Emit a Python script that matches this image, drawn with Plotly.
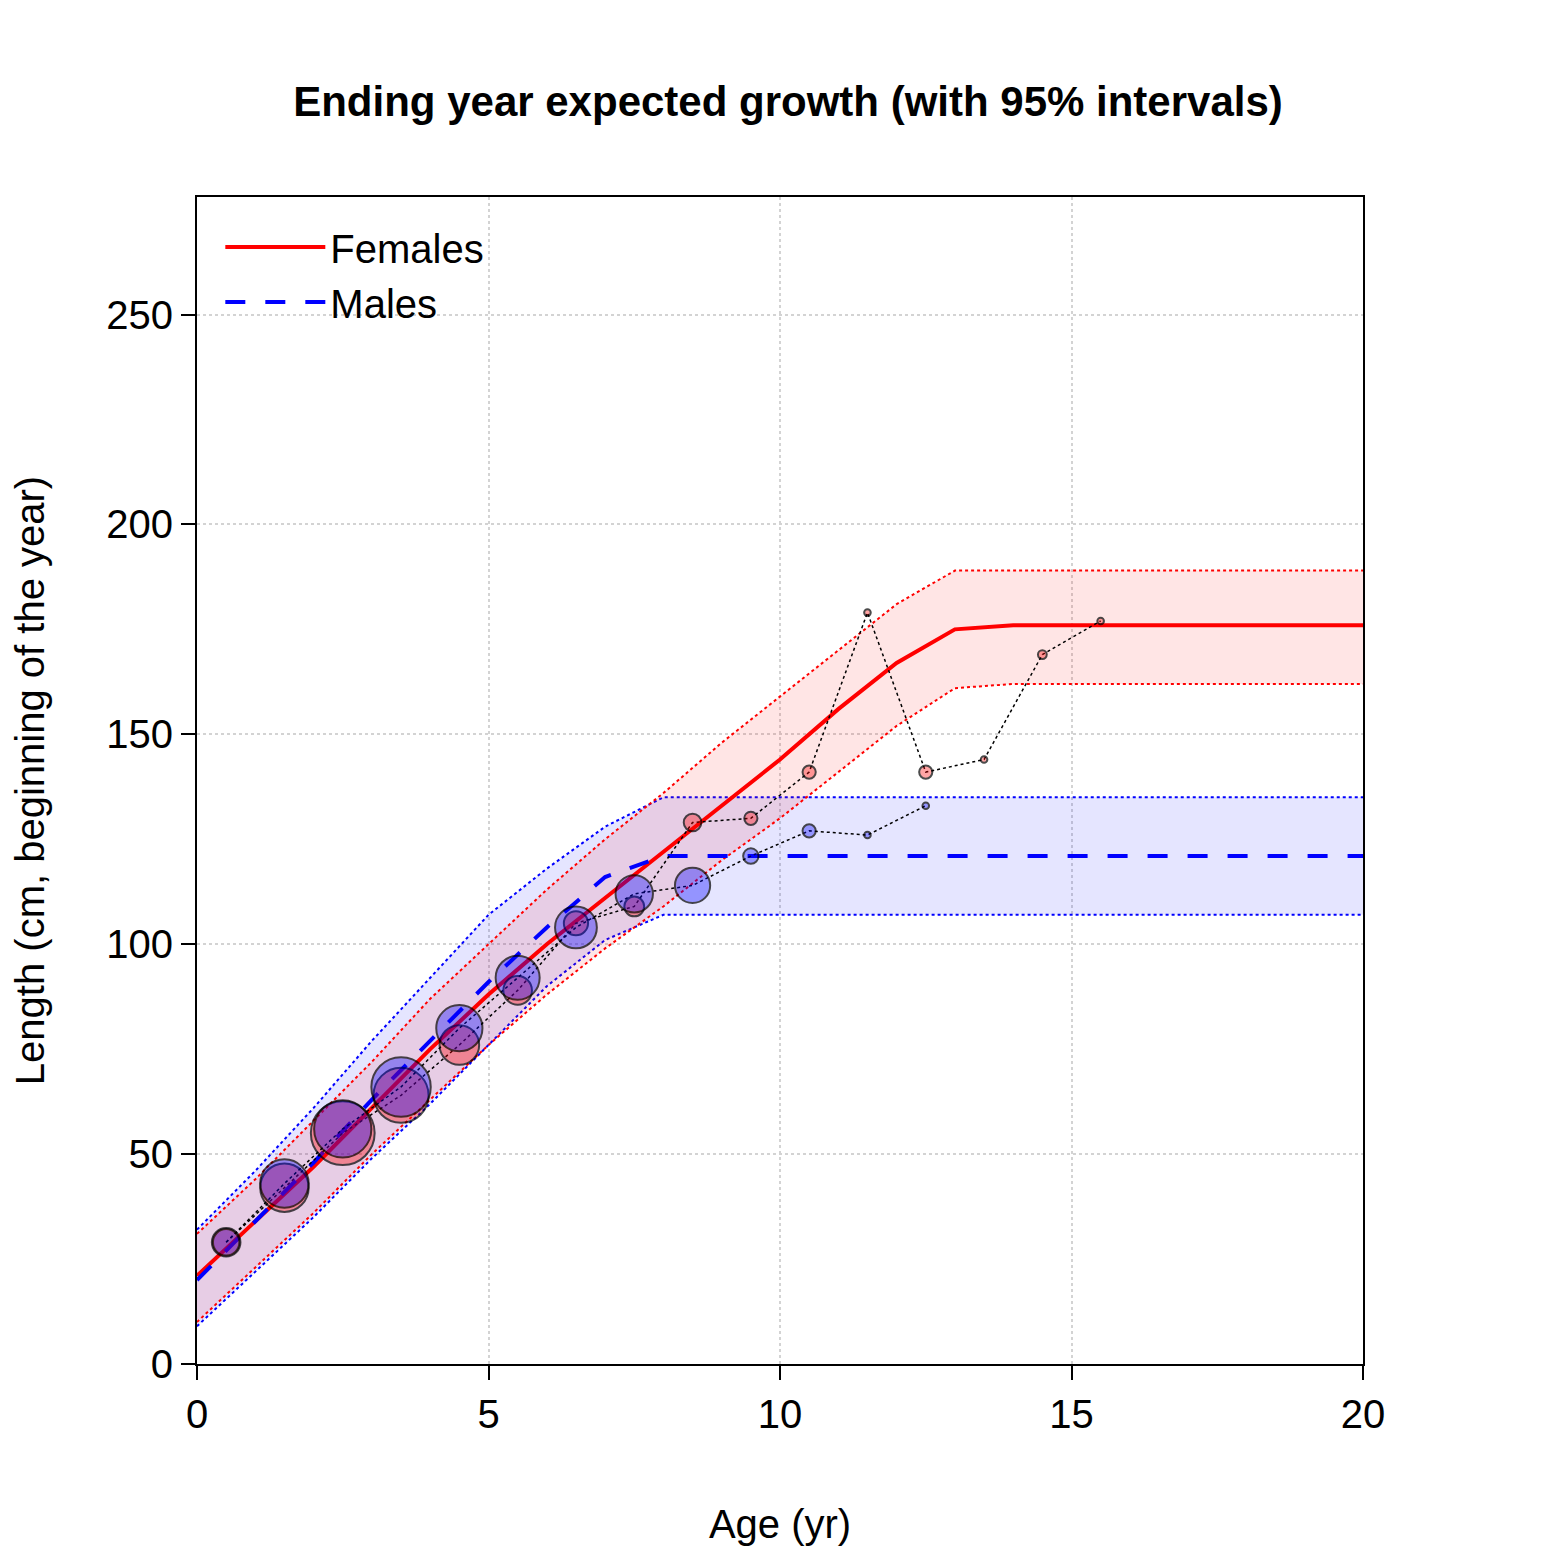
import plotly.graph_objects as go

ages = list(range(0, 21))
f_mean = [21, 34, 47, 61, 75, 88, 100, 111, 122, 133, 144, 156, 167, 175] + [176] * 7
f_upper = [31, 44, 58, 72, 87, 100, 113, 125, 136, 148, 159, 170, 181, 189] + [189] * 7
f_lower = [10, 23, 36, 50, 63, 76, 88, 99, 109, 120, 130, 141, 152, 161] + [162] * 7
m_mean = [20, 34, 48, 63, 77, 91, 104, 116, 121] + [121] * 12
m_upper = [32, 46, 61, 77, 92, 107, 118, 128, 135] + [135] * 12
m_lower = [9, 22, 35, 49, 62, 76, 90, 101, 107] + [107] * 12

f_obs_age = [0.5, 1.5, 2.5, 3.5, 4.5, 5.5, 6.5, 7.5, 8.5, 9.5, 10.5, 11.5, 12.5, 13.5, 14.5, 15.5]
f_obs_len = [29, 42, 55, 64, 76, 89, 105, 109, 129, 130, 141, 179, 141, 144, 169, 177]
f_obs_size = [13, 22, 29, 25, 18, 13, 11, 9, 8, 6, 6, 3, 6, 3, 4, 3]
m_obs_age = [0.5, 1.5, 2.5, 3.5, 4.5, 5.5, 6.5, 7.5, 8.5, 9.5, 10.5, 11.5, 12.5]
m_obs_len = [29, 43, 56, 66, 80, 92, 104, 112, 114, 121, 127, 126, 133]
m_obs_size = [12, 22, 26, 27, 21, 20, 19, 17, 16, 7, 6, 3, 3]

fig = go.Figure()

for lo, hi, col, fill in [(m_lower, m_upper, "blue", "rgba(0,0,255,0.1)"),
                          (f_lower, f_upper, "red", "rgba(255,0,0,0.1)")]:
    fig.add_trace(go.Scatter(x=ages, y=lo, mode="lines", line=dict(color=col, width=2, dash="dot"),
                             showlegend=False))
    fig.add_trace(go.Scatter(x=ages, y=hi, mode="lines", line=dict(color=col, width=2, dash="dot"),
                             fill="tonexty", fillcolor=fill, showlegend=False))

fig.add_trace(go.Scatter(x=ages, y=f_mean, mode="lines", line=dict(color="red", width=4), name="Females"))
fig.add_trace(go.Scatter(x=ages, y=m_mean, mode="lines", line=dict(color="blue", width=4, dash="longdash"),
                         name="Males"))

for xs, ys, ss, fill in [(f_obs_age, f_obs_len, f_obs_size, "rgba(255,0,0,0.5)"),
                         (m_obs_age, m_obs_len, m_obs_size, "rgba(0,0,255,0.5)")]:
    fig.add_trace(go.Scatter(x=xs, y=ys, mode="lines+markers", showlegend=False,
                             line=dict(color="black", width=1.5, dash="dot"),
                             marker=dict(size=[2.2 * s for s in ss], color=fill,
                                         line=dict(color="black", width=2))))

axis_common = dict(showline=True, linecolor="black", linewidth=2, mirror=True, ticks="outside",
                   ticklen=14, tickwidth=2, tickcolor="black", showgrid=True, gridcolor="#d3d3d3",
                   griddash="dot", gridwidth=2, zeroline=False,
                   tickfont=dict(size=40, color="black", family="Liberation Sans"))

fig.update_layout(
    width=1560, height=1560,
    paper_bgcolor="white", plot_bgcolor="white",
    margin=dict(l=189, r=205, t=189, b=204),
    font=dict(family="Liberation Sans", color="black"),
    title=dict(text="<b>Ending year expected growth (with 95% intervals)</b>", x=0.5, xanchor="center",
               y=0.94, yanchor="middle", font=dict(size=42)),
    xaxis=dict(range=[0, 20], tickvals=[0, 5, 10, 15, 20],
               title=dict(text="Age (yr)", font=dict(size=40), standoff=75), **axis_common),
    yaxis=dict(range=[0, 278], tickvals=[0, 50, 100, 150, 200, 250],
               title=dict(text="Length (cm, beginning of the year)", font=dict(size=40), standoff=55),
               **axis_common),
    legend=dict(x=0.02, y=0.985, xanchor="left", yanchor="top", bgcolor="rgba(0,0,0,0)",
                font=dict(size=40), itemwidth=100, traceorder="normal"),
)

fig.write_html("out.html")
